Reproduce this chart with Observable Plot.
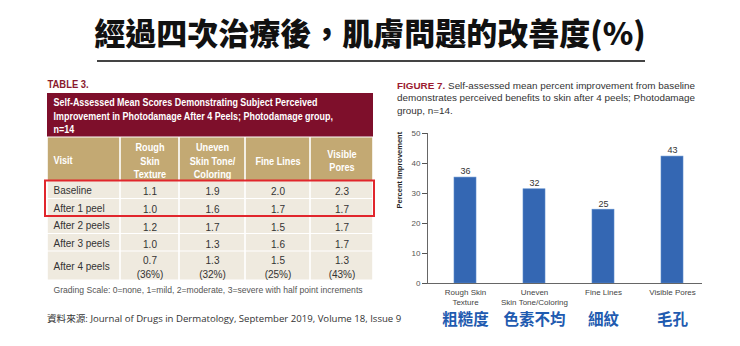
<!DOCTYPE html>
<html><head><meta charset="utf-8">
<script src="https://cdn.jsdelivr.net/npm/d3@7"></script>
<script src="https://cdn.jsdelivr.net/npm/@observablehq/plot@0.6"></script>
<style>
html,body{margin:0;padding:0;background:#fff;}
#root{position:relative;width:740px;height:346px;overflow:hidden;font-family:"Liberation Sans",Arial,sans-serif;}
#title{position:absolute;left:0;top:10px;width:740px;text-align:center;font-family:"Noto Sans CJK TC","Noto Sans CJK SC",sans-serif;font-weight:900;font-size:31px;color:#111;line-height:44px;white-space:nowrap;}
#rule{position:absolute;left:97px;top:60px;width:548px;height:2px;background:#444;}
#table{position:absolute;left:0;top:70px;}
#chart{position:absolute;left:385px;top:122px;}
#fig{position:absolute;left:397px;top:79.6px;font-size:9.9px;line-height:12.8px;color:#333;white-space:nowrap;}
#fig b{color:#9b1b30;}
#source{position:absolute;left:47px;top:312px;font-family:"Open Sans","Noto Sans CJK TC",sans-serif;font-size:9.6px;line-height:14px;color:#333;white-space:nowrap;}
</style></head>
<body>
<div id="root">
  <div id="title"></div>
  <div id="rule"></div>
  <div id="table"></div>
  <div id="fig"></div>
  <div id="chart"></div>
  <div id="source"></div>
</div>
<script>
// ---------- data ----------
const pageTitle = "經過四次治療後，肌膚問題的改善度(%)";
const tableLabel = "TABLE 3.";
const tableTitle = "Self-Assessed Mean Scores Demonstrating Subject Perceived\nImprovement in Photodamage After 4 Peels; Photodamage group,\nn=14";
const headerLabels = ["Visit", "Rough\nSkin\nTexture", "Uneven\nSkin Tone/\nColoring", "Fine Lines", "Visible\nPores"];
const visits = ["Baseline", "After 1 peel", "After 2 peels", "After 3 peels", "After 4 peels"];
const roughSkin = [1.1, 1.0, 1.2, 1.0, 0.7];
const unevenTone = [1.9, 1.6, 1.7, 1.3, 1.3];
const fineLines = [2.0, 1.7, 1.5, 1.6, 1.5];
const visiblePores = [2.3, 1.7, 1.7, 1.7, 1.3];
const highlightedVisits = ["Baseline", "After 1 peel"];
const gradingNote = "Grading Scale: 0=none, 1=mild, 2=moderate, 3=severe with half point increments";

const figLabel = "FIGURE 7.";
const figCaption = [" Self-assessed mean percent improvement from baseline", "demonstrates perceived benefits to skin after 4 peels; Photodamage", "group, n=14."];
const concerns = ["Rough Skin Texture", "Uneven Skin Tone/Coloring", "Fine Lines", "Visible Pores"];
const concernTicks = ["Rough Skin\nTexture", "Uneven\nSkin Tone/Coloring", "Fine Lines", "Visible Pores"];
const concernsZh = ["粗糙度", "色素不均", "細紋", "毛孔"];
const improvementPct = [36, 32, 25, 43];       // printed labels
const barHeights = [35.3, 31.4, 24.6, 42.3];   // bar tops as drawn
const yTicks = [0, 10, 20, 30, 40, 50];
const yLabel = "Percent Improvement";
const sourceText = "資料來源: Journal of Drugs in Dermatology, September 2019, Volume 18, Issue 9";

// ---------- text blocks ----------
document.getElementById("title").textContent = pageTitle;
document.getElementById("source").textContent = sourceText;
const fig = document.getElementById("fig");
fig.innerHTML = "<b>" + figLabel + "</b>" + figCaption[0] + "<br>" + figCaption[1] + "<br>" + figCaption[2];

// ---------- table (Plot) ----------
const series = [roughSkin, unevenTone, fineLines, visiblePores];
const TITLE_ROW = 0, HEAD_ROW = 1, FIRST_BODY = 2;
const nCols = headerLabels.length;
const nRows = FIRST_BODY + visits.length;
const cells = [];
headerLabels.forEach((h, c) => cells.push({col: c, row: HEAD_ROW, text: h, head: true}));
visits.forEach((v, r) => {
  cells.push({col: 0, row: FIRST_BODY + r, text: v, head: false});
  series.forEach((s, c) => {
    let t = s[r].toFixed(1);
    if (r === visits.length - 1) t += "\n(" + improvementPct[c] + "%)";
    cells.push({col: c + 1, row: FIRST_BODY + r, text: t, head: false});
  });
});
const head = cells.filter(d => d.head), body = cells.filter(d => !d.head);
const hl = [{r0: FIRST_BODY + visits.indexOf(highlightedVisits[0]), r1: FIRST_BODY + visits.indexOf(highlightedVisits[highlightedVisits.length - 1]) + 1}];

const sans = '"Liberation Sans",Arial,sans-serif';
const tablePlot = Plot.plot({
  width: 385, height: 235,
  x: {type: "linear", domain: d3.range(nCols + 1), range: [47, 120, 179, 245, 310, 373], axis: null},
  y: {type: "linear", domain: d3.range(nRows + 1), range: [23, 67, 110.5, 128.5, 146, 163.5, 181, 210], axis: null},
  style: {fontFamily: sans, background: "transparent", overflow: "visible"},
  marks: [
    Plot.rect([{}], {x1: 0, x2: nCols, y1: TITLE_ROW, y2: TITLE_ROW + 1, fill: "#7e0f2b", insetBottom: 0.5}),
    Plot.rect(cells, {x1: "col", x2: d => d.col + 1, y1: "row", y2: d => d.row + 1,
      fill: d => d.head ? "#c3a973" : "#efeadf", insetLeft: 0.8, insetRight: 0.8, insetTop: 0.5, insetBottom: 0.5}),
    Plot.text([tableLabel], {x: 0, y: TITLE_ROW, dy: -9, text: d => d, textAnchor: "start", fontWeight: "bold", fontSize: 11.5, fill: "#8a1a2e"}),
    Plot.text([tableTitle], {x: 0, y: TITLE_ROW + 0.5, dx: 6, text: d => d, textAnchor: "start", lineAnchor: "middle", lineHeight: 1.27, fill: "white", fontWeight: "bold", fontSize: 10.5}),
    // header cells
    Plot.text(head.filter(d => d.col === 0), {x: "col", y: d => d.row + 0.5, dx: 6, dy: 1, text: "text", textAnchor: "start", lineAnchor: "middle",
      fill: "white", fontWeight: "bold", fontSize: 10.3}),
    Plot.text(head.filter(d => d.col > 0), {x: d => d.col + 0.5, y: d => d.row + 0.5, dy: 1, text: "text", textAnchor: "middle", lineAnchor: "middle", lineHeight: 1.31,
      fill: "white", fontWeight: "bold", fontSize: 10.3}),
    // body cells
    Plot.text(body.filter(d => d.col === 0), {x: "col", y: d => d.row + 0.5, dx: 6, dy: 1, text: "text", textAnchor: "start", lineAnchor: "middle",
      fill: "#333", fontSize: 10}),
    Plot.text(body.filter(d => d.col > 0), {x: d => d.col + 0.5, y: d => d.row + 0.5, dy: 1, text: "text", textAnchor: "middle", lineAnchor: "middle", lineHeight: 1.4,
      fill: "#333", fontSize: 10}),
    Plot.rect(hl, {x1: 0, x2: nCols, y1: "r0", y2: "r1", fill: "none", stroke: "#e1262c", strokeWidth: 2,
      insetLeft: -2, insetRight: -1, insetTop: 0, insetBottom: 0}),
    Plot.text([gradingNote], {x: 0, y: nRows, dx: 6, dy: 9.5, text: d => d, textAnchor: "start", fontSize: 8.6, fill: "#555"})
  ]
});
// emulate the condensed bold face of the original table headings
const squeeze = (pred, k) => tablePlot.querySelectorAll("text").forEach(t => {
  if (pred(t)) t.setAttribute("transform", (t.getAttribute("transform") || "") + ` scale(${k},1)`);
});
const headSet = new Set(headerLabels.map(h => h.replace(/\n/g, "")));
squeeze(t => t.textContent.startsWith("Self-Assessed"), 0.852);
squeeze(t => headSet.has(t.textContent), 0.89);
squeeze(t => t.textContent === tableLabel, 0.82);
document.getElementById("table").appendChild(tablePlot);

// ---------- bar chart (Plot) ----------
const chartData = concerns.map((c, i) => ({concern: c, value: barHeights[i], label: improvementPct[i], zh: concernsZh[i], tick: concernTicks[i]}));
const tickMap = new Map(chartData.map(d => [d.concern, d.tick]));
const chart = Plot.plot({
  width: 355, height: 212,
  marginLeft: 42, marginRight: 38, marginTop: 11, marginBottom: 51,
  style: {fontFamily: sans, background: "transparent", overflow: "visible"},
  x: {type: "band", domain: concerns, paddingInner: 0.683, paddingOuter: 0.32, align: 0.584},
  y: {domain: [0, 50]},
  marks: [
    Plot.barY(chartData, {x: "concern", y: "value", fill: "#3467b3", stroke: "#5b8bcb", strokeWidth: 0.6}),
    Plot.text(chartData, {x: "concern", y: "value", text: "label", dy: -6, fontSize: 9, fill: "#333"}),
    Plot.text(chartData, {x: "concern", text: "zh", frameAnchor: "bottom", dy: 41, fontSize: 15.5, fontWeight: "bold", fill: "#1f5bb0",
      fontFamily: '"Noto Sans CJK TC","Noto Sans CJK SC",sans-serif'}),
    Plot.axisY({ticks: yTicks, tickSize: 5, tickPadding: 2, fontSize: 8, color: "#555", label: null}),
    Plot.axisX({tickSize: 0, tickPadding: 5, fontSize: 8, color: "#444", lineHeight: 1.17, tickFormat: d => tickMap.get(d), label: null}),
    Plot.text([yLabel], {frameAnchor: "left", text: d => d, rotate: -90, dx: -28, fontSize: 7.5, fontWeight: "bold", fill: "#222"}),
    Plot.frame({anchor: "left", stroke: "#666"}),
    Plot.ruleY([0], {stroke: "#666"})
  ]
});
document.getElementById("chart").appendChild(chart);
</script>
</body></html>
